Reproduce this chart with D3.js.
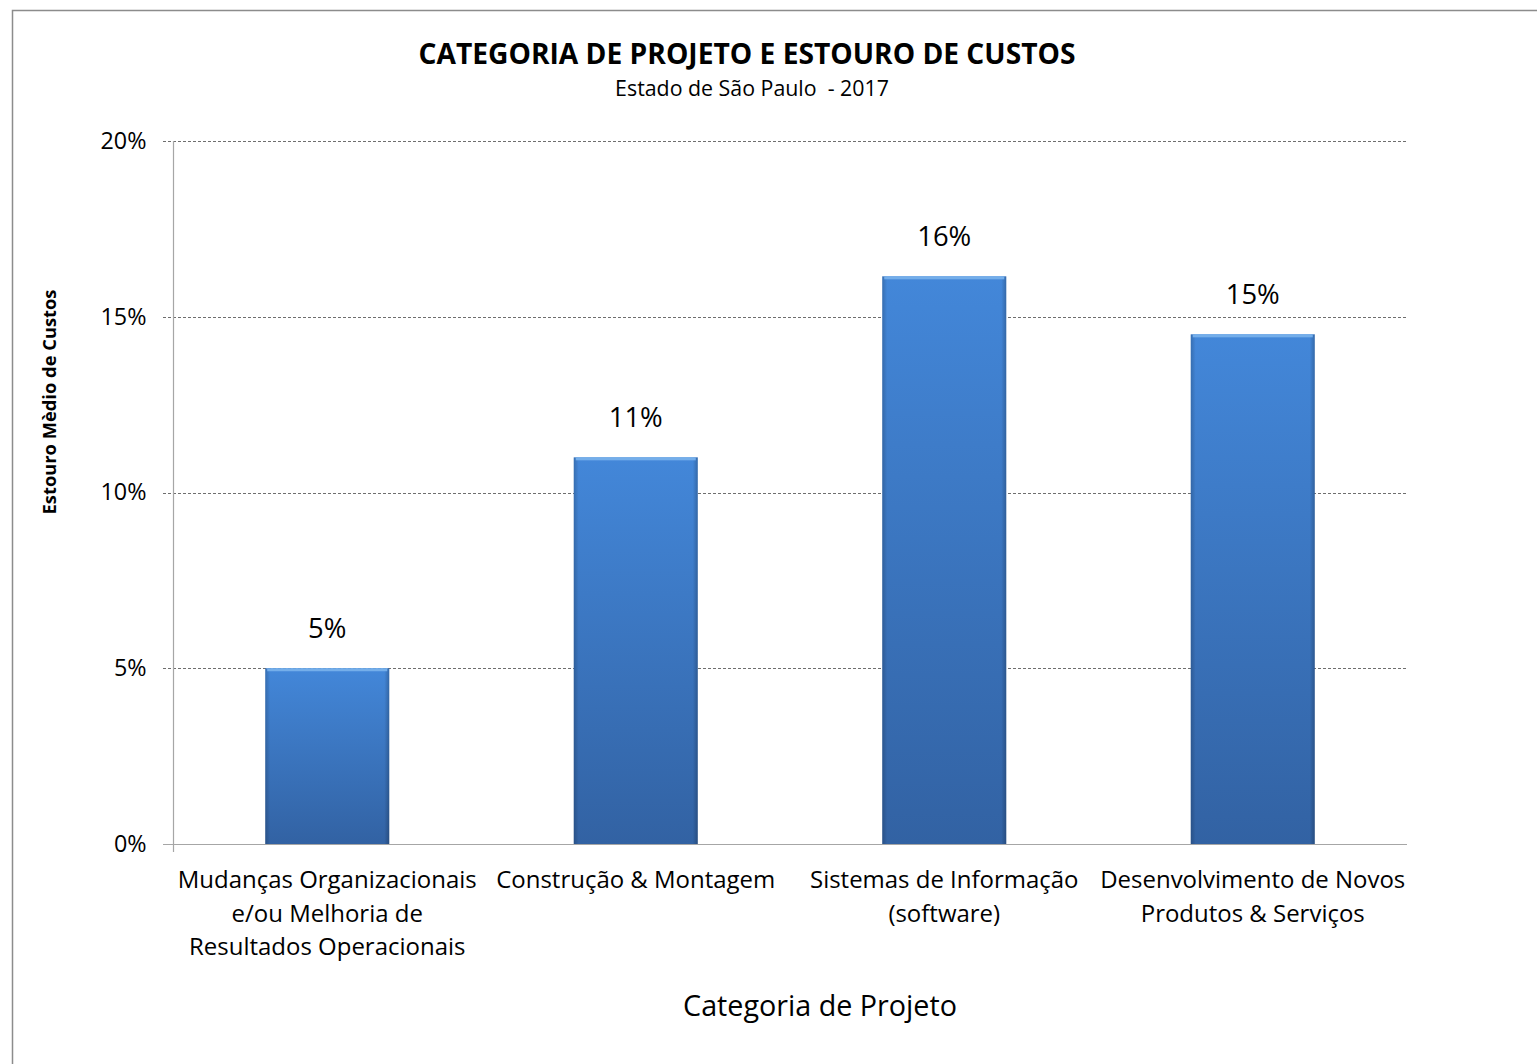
<!DOCTYPE html>
<html>
<head>
<meta charset="utf-8">
<script src="https://cdn.jsdelivr.net/npm/d3@7"></script>
<style>
  html, body { margin: 0; padding: 0; background: #fff; }
  svg { display: block; }
  text { font-family: "Open Sans", Lato, sans-serif; fill: #000; }
</style>
</head>
<body>
<svg id="chart" width="1537" height="1064"></svg>
<script>
const categories = [
  ["Mudanças Organizacionais", "e/ou Melhoria de", "Resultados Operacionais"],
  ["Construção & Montagem"],
  ["Sistemas de Informação", "(software)"],
  ["Desenvolvimento de Novos", "Produtos & Serviços"]
];
const values = [0.05, 0.11, 0.1615, 0.145];
const valueLabels = ["5%", "11%", "16%", "15%"];
const yTicks = [0, 0.05, 0.10, 0.15, 0.20];
const titleText = "CATEGORIA DE PROJETO E ESTOURO DE CUSTOS";
const subtitleText = "Estado de São Paulo  - 2017";
const xTitle = "Categoria de Projeto";
const yTitle = "Estouro Mèdio de Custos";

const svg = d3.select("#chart");
const W = 1537, H = 1064;
const plot = { left: 173, right: 1407, top: 141, bottom: 844 };

// font size so that a sample string reaches a target width
function fitSize(sample, target, weight) {
  const t = svg.append("text").attr("font-size", 100)
    .attr("font-weight", weight || "normal").style("white-space", "pre").text(sample);
  const w = t.node().getComputedTextLength();
  t.remove();
  return 100 * target / w;
}
const fsTitle = fitSize(titleText, 657, "bold");
const fsSub = fitSize(subtitleText, 274);
const fsTick = fitSize("20%", 46);
const fsVal = fitSize("16%", 54);
const fsCat = fitSize("Mudanças Organizacionais", 299);
const fsXT = fitSize(xTitle, 274);
const fsYT = fitSize(yTitle, 225, "bold");

// outer frame
svg.append("rect").attr("x", 12.5).attr("y", 10.5)
  .attr("width", W + 20).attr("height", H + 20)
  .attr("fill", "#fff").attr("stroke", "#8c8c8c").attr("stroke-width", 1.5);

const keys = categories.map((c, i) => i);
const x = d3.scaleBand().domain(keys).range([plot.left, plot.right])
  .paddingInner(0.598).paddingOuter(0.299);
const y = d3.scaleLinear().domain([0, 0.20]).range([plot.bottom, plot.top]);

// gradients
const defs = svg.append("defs");
const g1 = defs.append("linearGradient").attr("id", "barGrad")
  .attr("x1", 0).attr("y1", 0).attr("x2", 0).attr("y2", 1);
g1.append("stop").attr("offset", "0%").attr("stop-color", "#4387d9");
g1.append("stop").attr("offset", "100%").attr("stop-color", "#3262a3");
const g2 = defs.append("linearGradient").attr("id", "edgeGrad")
  .attr("x1", 0).attr("y1", 0).attr("x2", 1).attr("y2", 0);
g2.append("stop").attr("offset", "0%").attr("stop-color", "#000").attr("stop-opacity", 0.18);
g2.append("stop").attr("offset", "4%").attr("stop-color", "#000").attr("stop-opacity", 0);
g2.append("stop").attr("offset", "96%").attr("stop-color", "#000").attr("stop-opacity", 0);
g2.append("stop").attr("offset", "100%").attr("stop-color", "#000").attr("stop-opacity", 0.22);

// grid lines (dashed)
svg.append("g").selectAll("line").data(yTicks.filter(d => d > 0)).join("line")
  .attr("x1", plot.left - 10).attr("x2", plot.right)
  .attr("y1", d => Math.round(y(d)) + 0.5).attr("y2", d => Math.round(y(d)) + 0.5)
  .attr("stroke", "#6e6e6e").attr("stroke-width", 1).attr("stroke-dasharray", "3,2");

// y axis
const yAxis = d3.axisLeft(y).tickValues(yTicks).tickFormat(d3.format(".0%")).tickSize(0).tickPadding(27);
const ya = svg.append("g").attr("transform", `translate(${plot.left + 0.5},0)`).call(yAxis);
ya.select(".domain").remove();
ya.selectAll("text").attr("font-size", fsTick).attr("fill", "#000")
  .style("font-family", "'Open Sans', Lato, sans-serif");
svg.append("line").attr("x1", plot.left + 0.5).attr("x2", plot.left + 0.5)
  .attr("y1", plot.top).attr("y2", plot.bottom + 8)
  .attr("stroke", "#a6a6a6").attr("stroke-width", 1.2);

// bars
const bars = svg.append("g");
bars.selectAll("rect.bar").data(values).join("rect").attr("class", "bar")
  .attr("x", (d, i) => x(i)).attr("width", x.bandwidth())
  .attr("y", d => y(d)).attr("height", d => y(0) - y(d))
  .attr("fill", "url(#barGrad)");
bars.selectAll("rect.edge").data(values).join("rect").attr("class", "edge")
  .attr("x", (d, i) => x(i)).attr("width", x.bandwidth())
  .attr("y", d => y(d)).attr("height", d => y(0) - y(d))
  .attr("fill", "url(#edgeGrad)");
bars.selectAll("rect.hl").data(values).join("rect").attr("class", "hl")
  .attr("x", (d, i) => x(i) + 2).attr("width", x.bandwidth() - 4)
  .attr("y", d => y(d)).attr("height", 3)
  .attr("fill", "#74aeea");

// baseline
svg.append("line").attr("x1", plot.left - 10).attr("x2", plot.right)
  .attr("y1", plot.bottom + 0.5).attr("y2", plot.bottom + 0.5)
  .attr("stroke", "#a6a6a6").attr("stroke-width", 1.2);

// value labels
svg.append("g").selectAll("text").data(values).join("text")
  .attr("x", (d, i) => x(i) + x.bandwidth() / 2)
  .attr("y", d => y(d) - 30)
  .attr("text-anchor", "middle").attr("font-size", fsVal)
  .text((d, i) => valueLabels[i]);

// category labels
const cat = svg.append("g").selectAll("text").data(categories).join("text")
  .attr("x", (d, i) => x(i) + x.bandwidth() / 2)
  .attr("y", plot.bottom + 44)
  .attr("text-anchor", "middle").attr("font-size", fsCat);
cat.each(function(lines) {
  const t = d3.select(this);
  lines.forEach((l, j) => {
    t.append("tspan").attr("x", t.attr("x")).attr("dy", j === 0 ? 0 : 33.5).text(l);
  });
});

// titles
svg.append("text").attr("x", 747).attr("y", 64).attr("text-anchor", "middle")
  .attr("font-size", fsTitle).attr("font-weight", "bold").text(titleText);
svg.append("text").attr("x", 752).attr("y", 96).attr("text-anchor", "middle")
  .style("white-space", "pre").attr("font-size", fsSub).text(subtitleText);
svg.append("text").attr("x", 820).attr("y", 1016).attr("text-anchor", "middle")
  .attr("font-size", fsXT).text(xTitle);
svg.append("text").attr("transform", "translate(56,402) rotate(-90)")
  .attr("text-anchor", "middle").attr("font-size", fsYT).attr("font-weight", "bold").text(yTitle);
</script>
</body>
</html>
